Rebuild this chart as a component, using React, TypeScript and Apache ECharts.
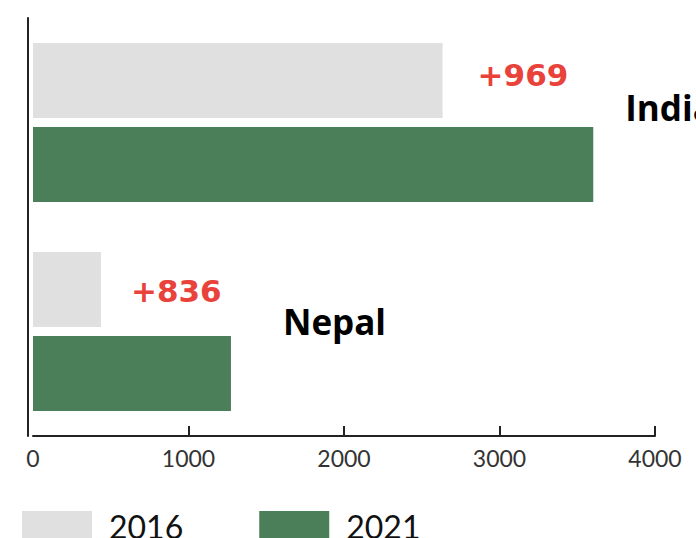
import React, { useEffect, useRef } from "react";
import * as echarts from "echarts";

const categories = ["India", "Nepal"];
const values2016 = [2634, 437];
const values2021 = [3603, 1273];
const changeLabels = ["+969", "+836"];
const xTicks = [0, 1000, 2000, 3000, 4000];
const seriesNames = ["2016", "2021"];

export default function App() {
  const ref = useRef<HTMLDivElement>(null);
  useEffect(() => {
    if (!ref.current) return;
    const chart = echarts.init(ref.current, null, { renderer: "svg" });
    const nameOffsets = [
      [27, -57],
      [47, -52],
    ];
    const changeOffsets = [
      [0, -6],
      [0, 1],
    ];
    const changeDist = [35, 30];
    chart.setOption({
      animation: false,
      backgroundColor: "#ffffff",
      grid: { left: 33, right: 41, top: 18, bottom: 102, containLabel: false },
      legend: {
        data: seriesNames,
        left: 17,
        top: 505,
        itemWidth: 70,
        itemHeight: 30,
        itemGap: 76,
        icon: "rect",
        textStyle: {
          fontFamily: "Lato",
          fontSize: 32,
          lineHeight: 28,
          color: "#111",
          padding: [0, 0, 0, 12],
        },
      },
      xAxis: {
        type: "value",
        min: xTicks[0],
        max: xTicks[xTicks.length - 1],
        interval: 1000,
        splitLine: { show: false },
        axisLine: { show: true, lineStyle: { color: "#222", width: 2 } },
        axisTick: {
          show: true,
          inside: true,
          length: 10,
          customValues: xTicks.slice(1),
          lineStyle: { color: "#222", width: 2 },
        },
        axisLabel: {
          fontFamily: "Lato",
          fontSize: 23,
          color: "#333",
          margin: 10,
          formatter: (v: number) => String(v),
        },
      },
      yAxis: {
        type: "category",
        data: categories,
        inverse: true,
        offset: 5,
        axisLine: { show: true, onZero: false, lineStyle: { color: "#222", width: 2 } },
        axisTick: { show: false },
        axisLabel: { show: false },
      },
      series: [
        {
          name: seriesNames[0],
          type: "bar",
          data: values2016.map((v, i) => ({
            value: v,
            label: {
              show: true,
              position: "right",
              distance: changeDist[i],
              offset: changeOffsets[i],
              formatter: changeLabels[i],
              color: "#e8423a",
              fontFamily: "DejaVu Sans",
              fontWeight: "bold",
              fontSize: 31,
            },
          })),
          itemStyle: { color: "#e0e0e0" },
          barWidth: 75,
          barGap: "12%",
        },
        {
          name: seriesNames[1],
          type: "bar",
          data: values2021.map((v, i) => ({
            value: v,
            label: {
              show: true,
              position: "right",
              offset: nameOffsets[i],
              formatter: categories[i],
              color: "#000",
              fontFamily: "Open Sans",
              fontWeight: "bold",
              fontSize: 35,
            },
          })),
          itemStyle: { color: "#4b7f5a" },
          barWidth: 75,
          barGap: "12%",
        },
      ],
    });
    return () => chart.dispose();
  }, []);
  return (
    <div
      ref={ref}
      style={{ position: "fixed", left: 0, top: 0, width: 696, height: 538, background: "#fff" }}
    />
  );
}
